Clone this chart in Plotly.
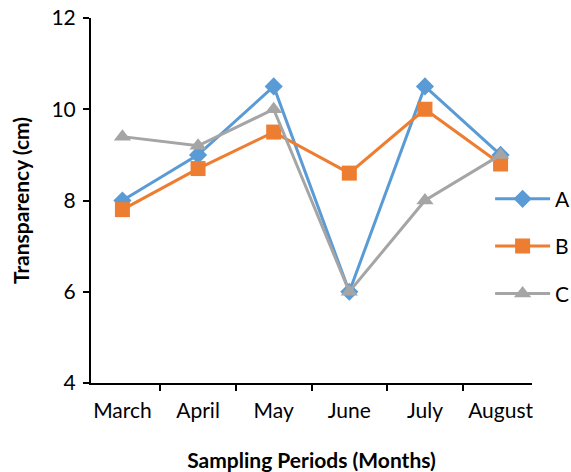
import plotly.graph_objects as go

months = ["March", "April", "May", "June", "July", "August"]
series_a = [8.0, 9.0, 10.5, 6.0, 10.5, 9.0]
series_b = [7.8, 8.7, 9.5, 8.6, 10.0, 8.8]
series_c = [9.4, 9.2, 10.0, 6.0, 8.0, 9.0]

font_family = "Lato, 'Open Sans', sans-serif"

fig = go.Figure()
fig.add_trace(go.Scatter(x=months, y=series_a, name="A", mode="lines+markers", legendgroup="a",
                         line=dict(color="#5B9BD5", width=3),
                         marker=dict(symbol="diamond", size=14, color="#5B9BD5")))
fig.add_trace(go.Scatter(x=months, y=series_b, name="B", mode="lines+markers", legendgroup="b",
                         line=dict(color="#ED7D31", width=3),
                         marker=dict(symbol="square", size=15, color="#ED7D31")))
fig.add_trace(go.Scatter(x=months, y=series_c, name="C", mode="lines+markers", legendgroup="c",
                         line=dict(color="#A5A5A5", width=3),
                         marker=dict(symbol="triangle-up", size=15, color="#A5A5A5")))

fig.update_layout(
    width=571, height=472,
    margin=dict(l=91, r=39, t=18, b=89, autoexpand=False),
    paper_bgcolor="white", plot_bgcolor="white",
    font=dict(family=font_family, size=21, color="black"),
    legend=dict(x=0.905, y=0.375, xanchor="left", yanchor="middle",
                bgcolor="rgba(0,0,0,0)", font=dict(size=21),
                tracegroupgap=17, itemwidth=55),
    xaxis=dict(
        showline=True, linecolor="black", linewidth=2,
        ticks="outside", tickson="boundaries", ticklen=6, tickwidth=2, tickcolor="black",
        ticklabelstandoff=8,
        showgrid=False, zeroline=False, automargin=False,
        title=dict(text="<b>Sampling Periods (Months)</b>", standoff=38, font=dict(size=21)),
    ),
    yaxis=dict(
        range=[4, 12], dtick=2, tick0=4,
        showline=True, linecolor="black", linewidth=2,
        ticks="outside", ticklen=6, tickwidth=2, tickcolor="black",
        ticklabelstandoff=3,
        showgrid=False, zeroline=False, automargin=False,
        title=dict(text="<b>Transparency (cm)</b>", standoff=16, font=dict(size=21)),
    ),
)

fig.write_html("out.html")
